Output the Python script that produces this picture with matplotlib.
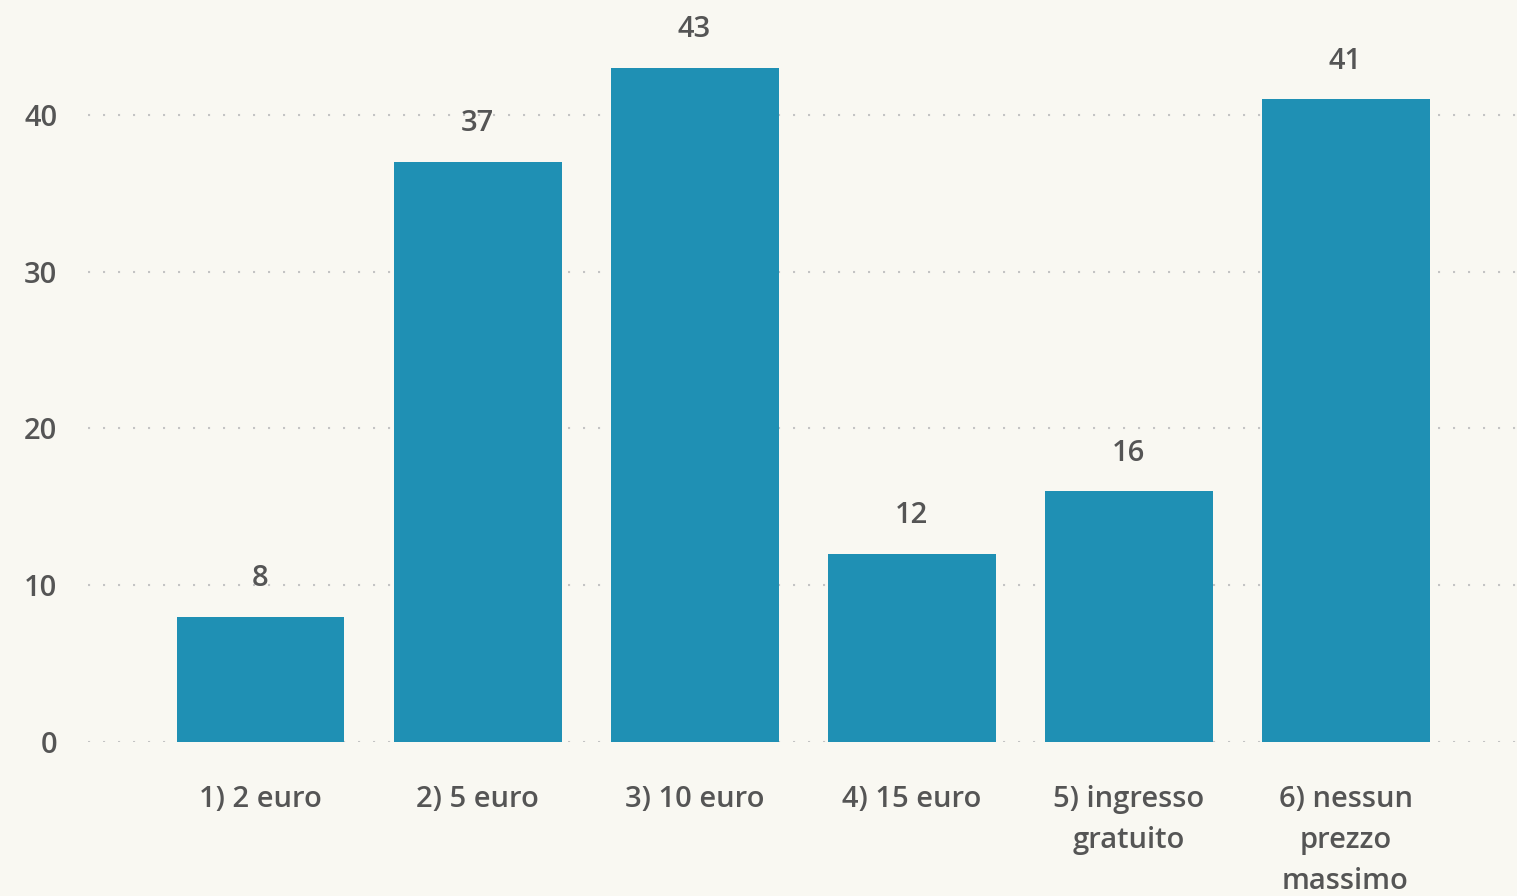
import matplotlib.pyplot as plt

# Chart data
categories = ['1) 2 euro', '2) 5 euro', '3) 10 euro', '4) 15 euro',
              '5) ingresso\ngratuito', '6) nessun\nprezzo\nmassimo']
values = [8, 37, 43, 12, 16, 41]
yticks = [0, 10, 20, 30, 40]

BG = '#f9f8f2'
BAR = '#1f90b4'
TXT = '#555555'
FS = 21

plt.rcParams['font.family'] = ['Open Sans', 'DejaVu Sans']
plt.rcParams['font.weight'] = 600

fig = plt.figure(figsize=(15.17, 8.96), dpi=100, facecolor=BG)
ax = fig.add_axes([0.058, 0.172, 0.942, 0.828], facecolor=BG)

x = list(range(len(categories)))
ax.bar(x, values, width=0.774, color=BAR, zorder=3)

# value labels above bars
for xi, v in zip(x, values):
    ax.annotate(str(v), (xi, v), xytext=(0, 17), textcoords='offset points',
                ha='center', va='bottom', fontsize=FS, color=TXT,
                fontweight=600, annotation_clip=False)

ax.set_xlim(-0.795, 5.79)
ax.set_ylim(0, 47.34)
ax.set_yticks(yticks)
ax.set_xticks(x)
ax.set_xticklabels(categories, fontsize=FS, color=TXT, linespacing=1.55,
                   fontweight=600)
for lbl in ax.get_yticklabels():
    lbl.set_fontweight(600)
ax.tick_params(axis='y', labelsize=FS, labelcolor=TXT, length=0, pad=22)
ax.tick_params(axis='x', length=0, pad=31)

ax.grid(axis='y', color='#c4c4c4', linestyle=(0, (1, 6.2)), linewidth=1.5, zorder=0)
ax.grid(axis='x', visible=False)
for s in ax.spines.values():
    s.set_visible(False)

fig.savefig('out.png', dpi=100, facecolor=BG)
